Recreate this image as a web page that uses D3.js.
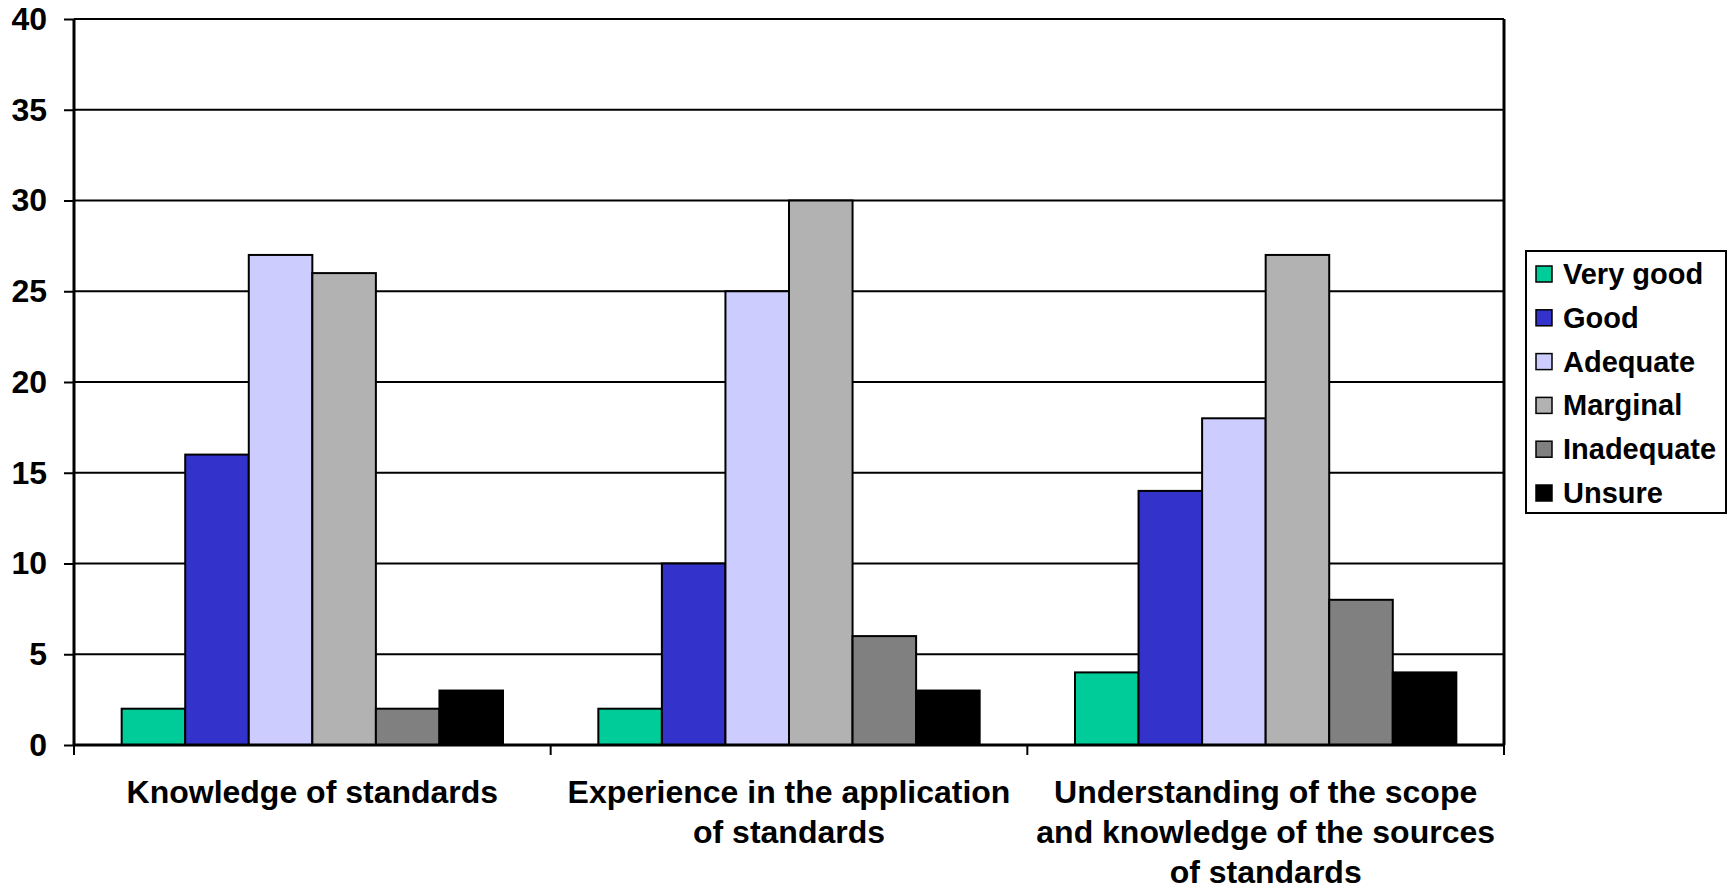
<!DOCTYPE html>
<html>
<head>
<meta charset="utf-8">
<script src="https://cdn.jsdelivr.net/npm/d3@7"></script>
<style>
  html, body { margin: 0; padding: 0; background: #fff; }
  text { font-family: "Liberation Sans", Arial, sans-serif; font-weight: bold; fill: #000; }
</style>
</head>
<body>
<script>
(function(d3) {
  "use strict";

  /***** Data *****/
  var categories = ["Knowledge of standards", "Experience in the application of standards",
    "Understanding of the scope and knowledge of the sources of standards"];
  var categoryLines = [
    ["Knowledge of standards"],
    ["Experience in the application", "of standards"],
    ["Understanding of the scope", "and knowledge of the sources", "of standards"]
  ];
  var seriesNames = ["Very good", "Good", "Adequate", "Marginal", "Inadequate", "Unsure"];
  var seriesColors = ["#00cc99", "#3333cc", "#ccccff", "#b2b2b2", "#808080", "#000000"];
  var veryGood = [2, 2, 4];
  var good = [16, 10, 14];
  var adequate = [27, 25, 18];
  var marginal = [26, 30, 27];
  var inadequate = [2, 6, 8];
  var unsure = [3, 3, 4];
  var seriesValues = [veryGood, good, adequate, marginal, inadequate, unsure];
  var yTicks = [0, 5, 10, 15, 20, 25, 30, 35, 40];

  /***** Configuration *****/
  var width = 1730, height = 892;
  var margin = { top: 19, right: 226, bottom: 147, left: 74 };
  var plotW = width - margin.left - margin.right;
  var plotH = height - margin.top - margin.bottom;

  var svg = d3.select("body").append("svg")
    .attr("width", width)
    .attr("height", height);

  var g = svg.append("g")
    .attr("transform", "translate(" + margin.left + "," + margin.top + ")");

  /***** Scales *****/
  var x0 = d3.scaleBand().domain(categories).range([0, plotW]).paddingInner(0).paddingOuter(0);
  var x1 = d3.scaleBand().domain(seriesNames)
    .range([x0.bandwidth() * 0.1, x0.bandwidth() * 0.9]).padding(0);
  var y = d3.scaleLinear().domain([0, 40]).range([plotH, 0]);

  // Gridlines
  g.append("g")
    .selectAll("line")
    .data(yTicks.filter(function(t) { return t > 0; }))
    .enter().append("line")
    .attr("x1", 0).attr("x2", plotW)
    .attr("y1", function(d) { return y(d); })
    .attr("y2", function(d) { return y(d); })
    .attr("stroke", "#000").attr("stroke-width", 2);

  // Right border
  g.append("line")
    .attr("x1", plotW).attr("x2", plotW)
    .attr("y1", 0).attr("y2", plotH)
    .attr("stroke", "#000").attr("stroke-width", 3);

  // Bars
  var groups = g.append("g").selectAll("g")
    .data(categories)
    .enter().append("g")
    .attr("transform", function(d) { return "translate(" + x0(d) + ",0)"; });

  groups.selectAll("rect")
    .data(function(d, i) {
      return seriesNames.map(function(s, j) {
        return { series: s, value: seriesValues[j][i], color: seriesColors[j] };
      });
    })
    .enter().append("rect")
    .attr("x", function(d) { return x1(d.series); })
    .attr("width", x1.bandwidth())
    .attr("y", function(d) { return y(d.value); })
    .attr("height", function(d) { return plotH - y(d.value); })
    .attr("fill", function(d) { return d.color; })
    .attr("stroke", "#000")
    .attr("stroke-width", 2);

  // Y axis
  var yAxis = d3.axisLeft(y).tickValues(yTicks).tickSize(10).tickPadding(17);
  var yAxisG = g.append("g").call(yAxis);
  yAxisG.select(".domain").attr("stroke", "#000").attr("stroke-width", 3).attr("d", "M0,0V" + plotH);
  yAxisG.selectAll(".tick line").attr("stroke", "#000").attr("stroke-width", 2);
  yAxisG.selectAll(".tick text")
    .style("font-size", "32px").style("font-family", "'Liberation Sans', Arial, sans-serif")
    .style("font-weight", "bold").attr("fill", "#000");

  // X axis
  var xAxisG = g.append("g").attr("transform", "translate(0," + plotH + ")");
  xAxisG.append("line")
    .attr("x1", 0).attr("x2", plotW)
    .attr("stroke", "#000").attr("stroke-width", 3);
  xAxisG.selectAll(".cat-tick")
    .data(d3.range(categories.length + 1))
    .enter().append("line")
    .attr("x1", function(i) { return i * x0.step(); })
    .attr("x2", function(i) { return i * x0.step(); })
    .attr("y1", 0).attr("y2", 10)
    .attr("stroke", "#000").attr("stroke-width", 2);

  xAxisG.selectAll(".cat-label")
    .data(categories)
    .enter().append("text")
    .attr("text-anchor", "middle")
    .attr("x", function(d) { return x0(d) + x0.bandwidth() / 2; })
    .attr("y", 58)
    .style("font-size", "32px")
    .each(function(d, i) {
      var t = d3.select(this);
      categoryLines[i].forEach(function(line, k) {
        t.append("tspan")
          .attr("x", x0(d) + x0.bandwidth() / 2)
          .attr("dy", k === 0 ? 0 : 40)
          .text(line);
      });
    });

  /***** Legend *****/
  var legend = svg.append("g").attr("transform", "translate(1526,251)");
  legend.append("rect")
    .attr("width", 200).attr("height", 262)
    .attr("fill", "#fff").attr("stroke", "#000").attr("stroke-width", 2);
  var items = legend.selectAll(".item")
    .data(seriesNames)
    .enter().append("g")
    .attr("transform", function(d, i) { return "translate(0," + (23 + i * 43.8) + ")"; });
  items.append("rect")
    .attr("x", 10).attr("y", -8)
    .attr("width", 16).attr("height", 16)
    .attr("fill", function(d, i) { return seriesColors[i]; })
    .attr("stroke", "#000").attr("stroke-width", 1.5);
  items.append("text")
    .attr("x", 37).attr("y", 10)
    .style("font-size", "29px")
    .text(function(d) { return d; });
})(d3);
</script>
</body>
</html>
